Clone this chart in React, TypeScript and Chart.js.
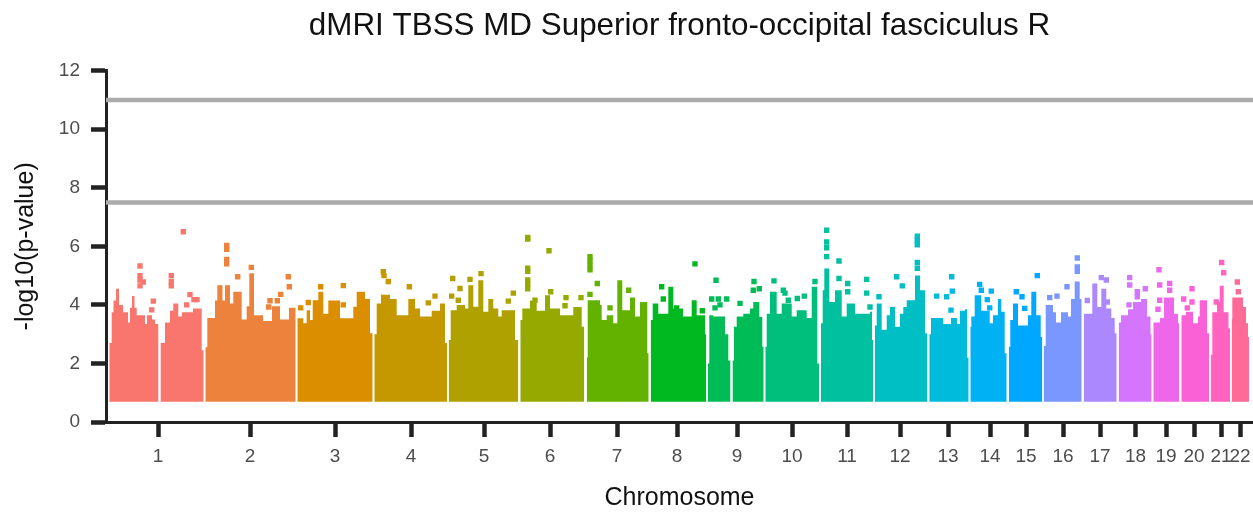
import React, { useEffect, useRef } from "react";
import { Chart, registerables } from "chart.js";

Chart.register(...registerables);

type P = [number, number];

const chromosomes = ["1","2","3","4","5","6","7","8","9","10","11","12","13","14","15","16","17","18","19","20","21","22"];
const tickPositions = [53,145,230,306,379,445,512,572,632,687,742,795,843,885,921,958,995,1030.5,1061,1089,1116,1135];
const colors = ["#F8766D","#EC823C","#DB8E00","#C69800","#AFA100","#95A900","#64B200","#00B81F","#00BC56","#00BE7C","#00C0A0","#00BFC4","#00BBDB","#00B2F3","#00A7FF","#7997FF","#AC88FF","#D575FE","#EE67EB","#FB61D7","#FF62BF","#FF6A96"];
const thresholds = [7.5, 11];
const yBase = 0.69;

// Upper envelope of the dense cloud: [position, -log10 p] held until the next position
const sky1: P[] = [[4.3,2.7],[6.7,3.75],[8.5,4.15],[11,4.55],[14,4],[18,3.75],[23,3.4],[25,3.9],[27,4.3],[29.5,3.9],[31.7,3.65],[40,3.35],[42,3.65],[47,3.5],[50,3.35],[53.3,0.69],[55.7,2.7],[60,3.4],[65,3.8],[68.3,4.05],[73.3,3.6],[77,3.75],[88,3.88],[96.7,2.45],[98.7,2.45]];
const sky2: P[] = [[100.3,2.55],[102.3,3.55],[110,4.15],[112.3,4.67],[117.5,4.15],[120,4.67],[125,4.05],[128.3,4.45],[136.7,3.5],[141.7,3.95],[144.3,5.08],[149,3.65],[158,3.45],[167,3.95],[175,3.5],[184,3.9],[190.7,3.9]];
const sky3: P[] = [[192.3,3.54],[198.3,3.37],[201.7,3.82],[205,3.48],[207.7,4.16],[213.3,4.45],[218.3,3.7],[223.3,4.15],[235,3.54],[248.3,3.94],[251.7,4.45],[260,4.2],[265,3.03],[267.7,3.03]];
const sky4: P[] = [[269.3,3],[271.7,4.05],[276,4.35],[285,4.2],[291.7,3.65],[303.3,4.2],[310,3.88],[315,3.6],[326.7,3.8],[335,4.05],[340,2.7],[342,2.7]];
const sky5: P[] = [[343.7,2.8],[345.7,3.82],[351.7,4],[360,3.88],[363.3,4.67],[368.3,3.94],[373.3,4.84],[378.3,3.77],[383.3,4.2],[388.3,3.88],[393.3,3.6],[396.7,3.82],[410,2.8],[413.3,2.8]];
const sky6: P[] = [[415.3,3.48],[417.3,3.88],[425,4.15],[431.7,3.8],[440,4.33],[445,3.88],[448.3,3.88],[455,3.65],[468.3,3.93],[476.7,3.25],[479.3,3.25]];
const sky7: P[] = [[481.7,2.2],[482.7,4.16],[495,4],[496.7,3.48],[501.7,3.65],[508.3,3.37],[512.3,4.84],[517.3,3.82],[525,4.25],[530,3.6],[535,4.1],[542.3,2.35],[543.7,2.35]];
const sky8: P[] = [[545.7,3.48],[547.7,4.05],[553.3,3.7],[563.3,4.62],[568.3,3.88],[578,3.6],[586.7,4.16],[591.7,3.65],[600,3],[601.3,3]];
const sky9: P[] = [[603,2],[604.3,3.65],[608.3,3.6],[620,3],[623.3,2.1],[625.3,0.69],[627.7,2.1],[629,3.25],[631.7,3.6],[638.3,3.7],[645,3.88],[648.3,4.1],[654.3,3.59],[657.3,2.57],[658.7,2.57]];
const sky10: P[] = [[660.3,2.57],[661.7,3.7],[665,4.45],[671.7,3.7],[676.7,4.05],[686.7,3.6],[691.7,3.82],[701.7,3.55],[706.7,4.62],[712.3,2],[714,2]];
const sky11: P[] = [[716,3.37],[717.7,4.5],[719.3,5.24],[724.3,4.1],[730,4.5],[736.7,3.6],[741.7,4.05],[750,3.7],[765,3.77],[767,2.8],[768.3,2.8]];
const sky12: P[] = [[770,3.3],[771.7,4.05],[776.7,3.15],[781.7,3.65],[785,3.93],[790,3.25],[795,3.7],[798.3,3.93],[801.7,4.16],[810,5],[815,4.5],[820,3.03],[822.3,3.03]];
const sky13: P[] = [[824.3,3],[826,3.55],[838,3.35],[846,3.55],[852,3.35],[855,3.8],[860,3.85],[862,2.2],[863.7,2.2]];
const sky14: P[] = [[865.3,3.25],[866.3,3.6],[869.7,4.33],[876.3,3.8],[884.7,3.37],[888,3.65],[893,4.2],[896.3,3.77],[899.7,2.35],[901.7,2.35]];
const sky15: P[] = [[904,2.57],[905.3,3.48],[908,4.05],[913,3.3],[923,3.65],[926.3,4.45],[931.3,3.65],[935.7,2.9],[937.3,2.9]];
const sky16: P[] = [[938.7,2.6],[940.7,4],[948,3.75],[951,3.4],[956,3.75],[963,3.6],[966,4.2],[969.7,4.8],[974.7,4.2],[976.7,4.2]];
const sky17: P[] = [[978.7,3.7],[987.3,4.73],[992.3,3.93],[996.3,4.55],[1001.3,3.88],[1006.3,3.55],[1009.7,3.03],[1011.7,3.03]];
const sky18: P[] = [[1013.7,3.4],[1016,3.65],[1023,3.85],[1028,4.1],[1036,4.2],[1042,3.6],[1045.5,3],[1046.7,3]];
const sky19: P[] = [[1048.3,3.4],[1055,3.55],[1059,4.25],[1069,3.7],[1073,3.37],[1074.3,3.37]];
const sky20: P[] = [[1076.3,3.65],[1081,3.77],[1088,3.37],[1093,3.6],[1094.7,4.16],[1102,3.03],[1104,3.03]];
const sky21: P[] = [[1105.7,2.3],[1107.3,3.75],[1112,4.1],[1114.7,4.65],[1118.7,3.75],[1123.5,3.2],[1125,3.2]];
const sky22: P[] = [[1126.7,3.5],[1127.3,4.25],[1138,3.93],[1141,3.37],[1143,2.9],[1144,2.9]];

// Isolated points above the cloud
const pts1: P[] = [[78.3,6.5],[35,5.33],[35,5],[35,4.85],[35,4.65],[38.3,4.78],[66.3,5],[66.3,4.8],[66.3,4.65],[48.3,4.13],[46.7,3.83],[85,4.35],[92,4.18],[89,4.18],[81.7,4]];
const pts2: P[] = [[121.7,6.03],[121.7,5.9],[121.7,5.55],[121.7,5.4],[146.3,5.28],[132.7,4.96],[183.3,4.96],[184.3,4.62],[175.7,4.36],[165,4.14],[172.3,4.14],[163.7,3.93]];
const pts3: P[] = [[215.7,4.62],[238.3,4.66],[195.7,3.9],[203.3,4.08],[238.3,4]];
const pts4: P[] = [[278.3,5.13],[279,5],[283.3,4.8],[304.3,4.62],[330,4.3],[323.3,4.07]];
const pts5: P[] = [[347.7,4.9],[365,4.87],[376,5.07],[346.7,4.3],[355,4.56],[353.3,4.16],[408.3,4.4],[403.3,4.13]];
const pts6: P[] = [[422.7,6.3],[422.7,6.25],[422.7,5.25],[422.7,5.15],[422.7,4.85],[422.7,4.7],[422.7,4.55],[444,5.85],[461,4.25],[476,4.25],[445.7,4.45],[430,4.16],[460,3.97]];
const pts7: P[] = [[485,5.65],[485,5.5],[485,5.35],[485,5.2],[492.3,4.73],[485,4.36],[523.7,4.5],[505,3.9]];
const pts8: P[] = [[590,5.4],[556.7,4.62],[558.3,4.2],[597.3,3.8],[571.7,3.9]];
const pts9: P[] = [[611,4.84],[606.7,4.2],[613.3,4.2],[621.7,4.2],[615,4],[610,3.9],[635,4.05],[649,4.8],[648.3,4.5],[654.3,4.55]];
const pts10: P[] = [[669,4.82],[680,4.4],[683.3,4.16],[692.3,4.22],[699.3,4.3],[710,4.8],[678.3,4.5]];
const pts11: P[] = [[721.7,6.55],[721.7,6.15],[721.7,5.95],[721.7,5.65],[734,5.5],[734,4.9],[742.7,4.73],[742.7,4.45],[761.7,4.87],[761.7,4.4],[765,3.93]];
const pts12: P[] = [[812.3,6.35],[812.3,6.2],[812.3,6.05],[812.3,5.45],[812.3,5.25],[791.7,4.96],[797.3,4.65],[774,4.28]];
const pts13: P[] = [[831.7,4.3],[841.7,4.28],[846.7,4.96],[847.3,4.47],[846,3.82]];
const pts14: P[] = [[874.7,4.7],[876.3,4.5],[886.3,4.47],[882.3,4.18],[884.7,3.9]];
const pts15: P[] = [[932.3,5],[911.3,4.45],[917,4.28],[919.7,3.88]];
const pts16: P[] = [[972.3,5.6],[972.3,5.3],[972.3,5.15],[962,4.62],[952,4.3],[944.7,4.25]];
const pts17: P[] = [[996.3,4.93],[1001.3,4.85],[982.3,4.15],[1002.3,4.1]];
const pts18: P[] = [[1024.7,4.93],[1024.7,4.68],[1032.3,4.45],[1032.3,4.28],[1040.3,4.55],[1024,4]];
const pts19: P[] = [[1064.7,4.73],[1064.7,4.5],[1054,5.2],[1054.7,4.68],[1053,3.85],[1054.7,4.16]];
const pts20: P[] = [[1087,4.55],[1078.7,4.2],[1087,4.1],[1082.3,3.9]];
const pts21: P[] = [[1116.7,5.45],[1118.7,5.1],[1111.3,4.1]];
const pts22: P[] = [[1132.3,4.78],[1133.3,4.45]];

const skylines = [sky1,sky2,sky3,sky4,sky5,sky6,sky7,sky8,sky9,sky10,sky11,sky12,sky13,sky14,sky15,sky16,sky17,sky18,sky19,sky20,sky21,sky22];
const peaks = [pts1,pts2,pts3,pts4,pts5,pts6,pts7,pts8,pts9,pts10,pts11,pts12,pts13,pts14,pts15,pts16,pts17,pts18,pts19,pts20,pts21,pts22];

const xy = (a: P[]) => a.map(([x, y]) => ({ x, y }));
const FONT = "'Liberation Sans', Arial, sans-serif";

export default function App() {
  const ref = useRef<HTMLCanvasElement>(null);
  useEffect(() => {
    const datasets: any[] = [];
    thresholds.forEach((t) => {
      datasets.push({
        type: "line", label: `threshold ${t}`,
        data: [{ x: 1, y: t }, { x: 1148, y: t }],
        borderColor: "#ABABAB", borderWidth: 4.5, pointRadius: 0, fill: false,
      });
    });
    chromosomes.forEach((c, i) => {
      datasets.push({
        type: "line", label: `chr${c} cloud`, data: xy(skylines[i]),
        stepped: "before", borderWidth: 0, borderColor: colors[i], backgroundColor: colors[i],
        pointRadius: 0, fill: { value: yBase },
      });
      datasets.push({
        type: "scatter", label: `chr${c} peaks`, data: xy(peaks[i]),
        showLine: false, pointRadius: 3.8, pointStyle: "rect", borderWidth: 0,
        backgroundColor: colors[i], borderColor: colors[i],
      });
    });
    const chart = new Chart(ref.current!, {
      type: "line",
      data: { datasets },
      options: {
        animation: false, responsive: false,
        layout: { padding: 0, autoPadding: false },
        plugins: {
          legend: { display: false }, tooltip: { enabled: false },
          title: {
            display: true, text: "dMRI TBSS MD Superior fronto-occipital fasciculus R",
            color: "#111", fullSize: false, font: { family: FONT, size: 31.4, weight: "normal" },
            padding: { top: 8, bottom: 25 },
          },
        },
        scales: {
          x: {
            type: "linear", min: 1, max: 1148,
            afterBuildTicks: (s: any) => { s.ticks = tickPositions.map((value) => ({ value })); },
            afterFit: (s: any) => { s.height = 94; s.paddingRight = 0; s.paddingLeft = 0; },
            ticks: {
              autoSkip: false, maxRotation: 0, color: "#4D4D4D", padding: 8,
              font: { family: FONT, size: 19 },
              callback: (v: any) => chromosomes[tickPositions.indexOf(Number(v))] ?? "",
            },
            grid: { drawOnChartArea: false, drawTicks: true, tickLength: 15, tickWidth: 4.5, tickColor: "#222" },
            border: { display: true, color: "#222", width: 3 },
            title: { display: true, text: "Chromosome", color: "#111", font: { family: FONT, size: 25 }, padding: { top: 6, bottom: 3 } },
          },
          y: {
            type: "linear", min: 0, max: 12,
            afterFit: (s: any) => { s.width = 106; s.paddingTop = 0; s.paddingBottom = 0; },
            ticks: {
              stepSize: 2, color: "#4D4D4D", padding: 11,
              font: { family: FONT, size: 19 },
            },
            grid: { drawOnChartArea: false, drawTicks: true, tickLength: 15, tickWidth: 4.5, tickColor: "#222" },
            border: { display: true, color: "#222", width: 3 },
            title: { display: true, text: "-log10(p-value)", color: "#111", font: { family: FONT, size: 25 }, padding: { top: 11, bottom: 0 } },
          },
        },
      } as any,
    });
    return () => chart.destroy();
  }, []);
  return <canvas ref={ref} width={1253} height={516} style={{ position: "fixed", left: 0, top: 0, display: "block" }} />;
}
